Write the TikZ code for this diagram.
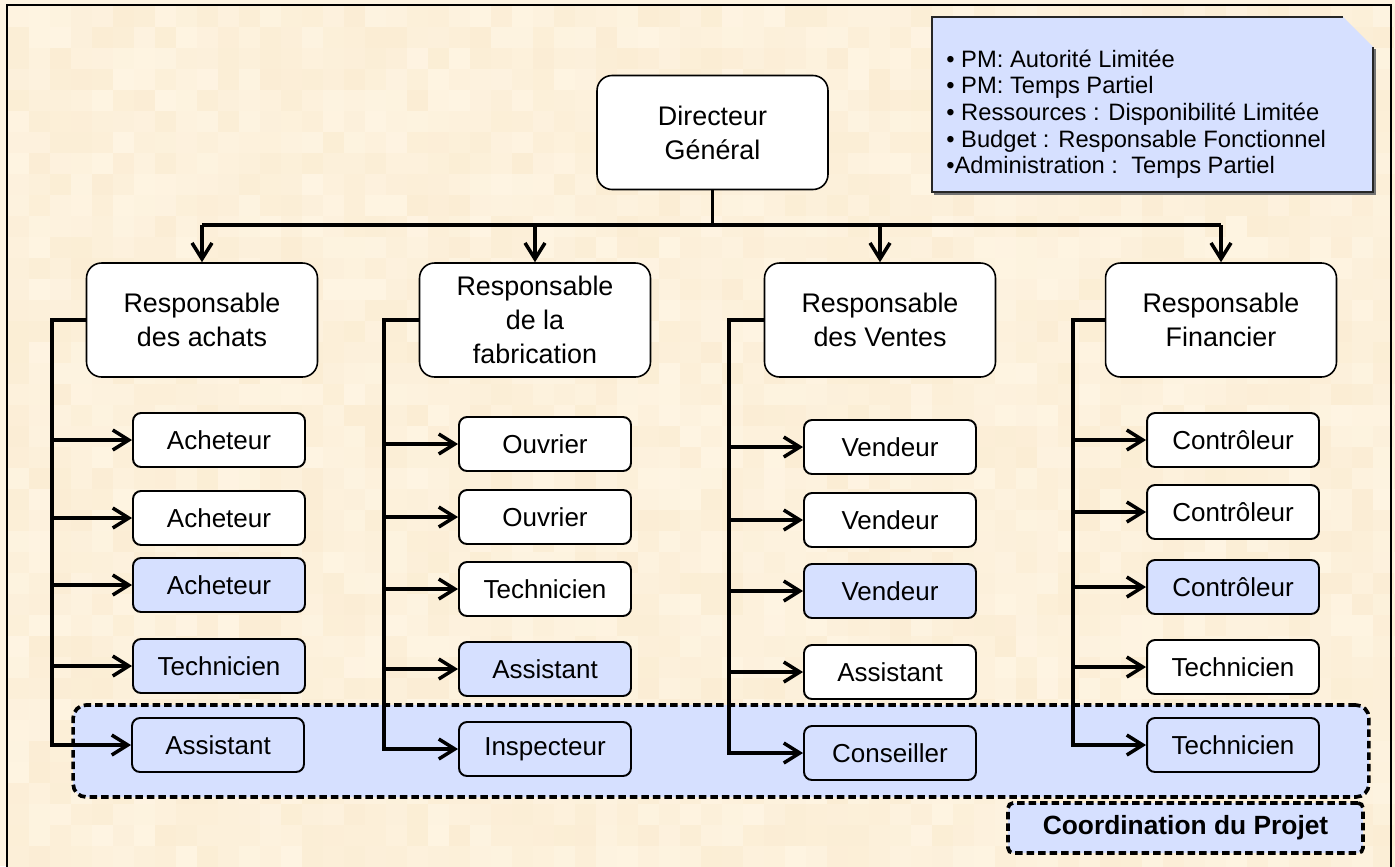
\documentclass[tikz,border=0pt]{standalone}
\usepackage{fontspec}
\setmainfont{Liberation Sans}
\usetikzlibrary{arrows.meta}
\definecolor{bgA}{RGB}{254,244,226}
\definecolor{bgB}{RGB}{251,237,212}
\definecolor{projblue}{RGB}{214,224,255}

\begin{document}
\begin{tikzpicture}[x=0.02cm,y=-0.02cm,
  mgr/.style={draw=black, line width=0.9pt, fill=white, rounded corners=0.3cm,
    minimum width=4.62cm, minimum height=2.28cm, align=center, inner sep=0pt,
    font=\fontsize{15.3}{19.3}\selectfont},
  staff/.style={draw=black, line width=1.1pt, fill=white, rounded corners=0.16cm,
    minimum width=3.44cm, minimum height=1.08cm, inner sep=0pt,
    font=\fontsize{14.8}{17}\selectfont},
  staffhl/.style={staff, fill=projblue},
  wire/.style={line width=2pt, black},
  arr/.style={wire, -{Straight Barb[length=0.32cm, width=0.4cm]}},
  dashbox/.style={draw=black, line width=2.1pt, fill=projblue,
    dash pattern=on 0.15cm off 0.08cm},
  infotext/.style={anchor=base west, inner sep=0pt, font=\fontsize{13.5}{15.4}\selectfont},
  ]
\useasboundingbox (0,0) rectangle (1395,866);

% textured cream background and frame
\begin{scope}
  \clip (0,0) rectangle (1395,866);
  \fill[bgA] (0,0) rectangle (1395,866);
  \pgfmathsetseed{7}
  \foreach \i in {0,...,66}{
    \foreach \j in {0,...,41}{
      \pgfmathtruncatemacro\p{100*rnd}
      \fill[bgA!\p!bgB] (8+\i*21,6+\j*21) rectangle ++(21,21);
    }
  }
  \draw[line width=1.3pt] (7,880) -- (7,5) -- (1391,5) -- (1391,880);
\end{scope}

% information note (snipped corner)
\draw[line width=1.6pt, black!55] (1375,49) -- (1375,194) -- (934,194);
\fill[projblue] (932,17) -- (1343,17) -- (1373,47) -- (1373,192) -- (932,192) -- cycle;
\draw[line width=0.8pt, black!85] (1343,17) -- (932,17) -- (932,192) -- (1373,192) -- (1373,47);
\node[infotext] (i1) at (946,67)  {• PM: Autorité Limitée};
\node[infotext] (i2) at (946,93)  {• PM: Temps Partiel};
\node[infotext] (i3) at (946,120) {• Ressources : Disponibilité Limitée};
\node[infotext] (i4) at (946,147) {• Budget : Responsable Fonctionnel};
\node[infotext] (i5) at (946,173) {•Administration :\ \ Temps Partiel};

% project coordination band
\node[dashbox, rounded corners=0.26cm, minimum width=25.92cm, minimum height=1.84cm] (proj) at (721,751) {};
\node[dashbox, rounded corners=0.1cm, minimum width=7.1cm, minimum height=1.0cm,
  font=\fontsize{15}{17}\selectfont\bfseries] (coord) at (1185.5,828) {Coordination du Projet};

% management
\node[mgr] (dg) at (712.5,132.5) {Directeur\\Général};
\node[mgr] (r1) at (202,320) {Responsable\\des achats};
\node[mgr] (r2) at (535,320) {Responsable\\de la\\fabrication};
\node[mgr] (r3) at (880,320) {Responsable\\des Ventes};
\node[mgr] (r4) at (1221,320) {Responsable\\Financier};

% staff, column 1
\node[staff]   (a1) at (219,440) {Acheteur};
\node[staff]   (a2) at (219,518) {Acheteur};
\node[staffhl] (a3) at (219,585) {Acheteur};
\node[staffhl] (a4) at (219,666) {Technicien};
\node[staffhl] (a5) at (218,745) {Assistant};
% column 2
\node[staff]   (b1) at (545,444) {Ouvrier};
\node[staff]   (b2) at (545,517) {Ouvrier};
\node[staff]   (b3) at (545,589) {Technicien};
\node[staffhl] (b4) at (545,669) {Assistant};
\node[staffhl] (b5) at (545,749) {Inspecteur};
% column 3
\node[staff]   (c1) at (890,447) {Vendeur};
\node[staff]   (c2) at (890,520) {Vendeur};
\node[staffhl] (c3) at (890,591) {Vendeur};
\node[staff]   (c4) at (890,672) {Assistant};
\node[staffhl] (c5) at (890,753) {Conseiller};
% column 4
\node[staff]   (d1) at (1233,440) {Contrôleur};
\node[staff]   (d2) at (1233,512) {Contrôleur};
\node[staffhl] (d3) at (1233,587) {Contrôleur};
\node[staff]   (d4) at (1233,667) {Technicien};
\node[staffhl] (d5) at (1233,745) {Technicien};

% top-level bus
\coordinate (bus) at (712.5,225);
\draw[wire] (dg.south) -- (bus);
\draw[wire] (r1.north |- bus) -- (r4.north |- bus);
\foreach \n in {r1,r2,r3,r4} \draw[arr] (\n.north |- bus) -- (\n.north);

% departmental feeders
\coordinate (t1) at (52,320);
\coordinate (t2) at (384,320);
\coordinate (t3) at (729,320);
\coordinate (t4) at (1073,320);
\foreach \r/\t/\c in {r1/t1/a, r2/t2/b, r3/t3/c, r4/t4/d}{
  \draw[arr] (\r.west) -- (\t) |- (\c5.west);
  \foreach \k in {1,2,3,4}
    \draw[arr] (\t |- \c\k.west) -- (\c\k.west);
}
\end{tikzpicture}
\end{document}
